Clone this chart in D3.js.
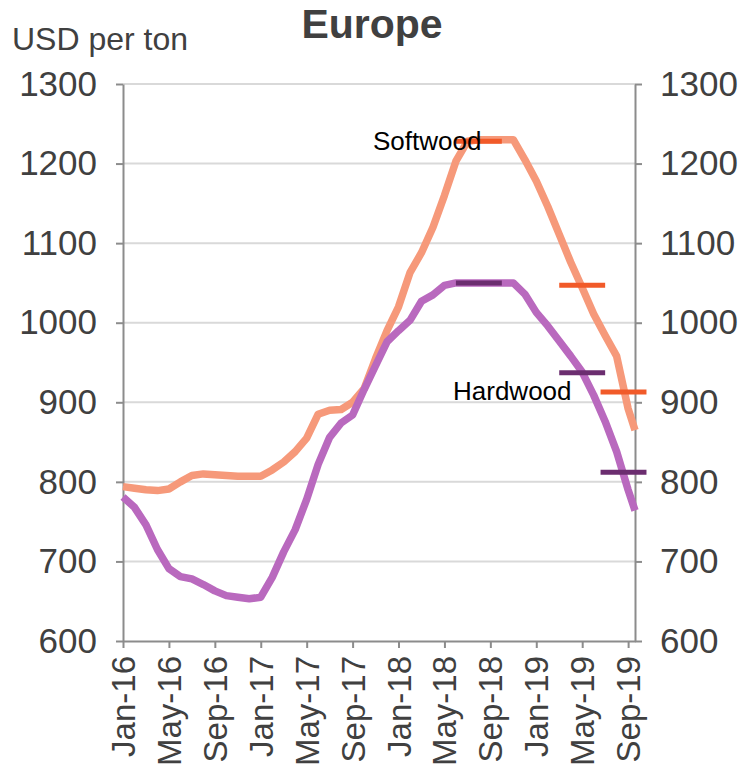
<!DOCTYPE html>
<html>
<head>
<meta charset="utf-8">
<script src="https://cdn.jsdelivr.net/npm/d3@7"></script>
<style>
  body { margin: 0; background: #fff; }
  text { font-family: "Liberation Sans", Arial, sans-serif; }
</style>
</head>
<body>
<div id="chart"></div>
<script>
// month index 0 = Jan-16; the last reading sits a little past Sep-19
const obsMonth = d3.range(45).concat([44.6]);

const softwood = [794, 792, 790, 789, 791, 800, 808, 810, 809, 808, 807, 807,
  807, 815, 825, 838, 855, 885, 890, 891, 900, 917, 955, 990,
  1020, 1063, 1088, 1120, 1160, 1203, 1228, 1230, 1230, 1230, 1230, 1205,
  1178, 1146, 1111, 1076, 1044, 1011, 984, 958, 892, 865];

const hardwood = [781, 768, 746, 715, 691, 681, 678, 671, 663, 657, 655, 653,
  655, 680, 712, 740, 778, 822, 856, 874, 884, 916, 946, 976,
  990, 1003, 1027, 1035, 1047, 1050, 1050, 1050, 1050, 1050, 1050, 1036,
  1013, 996, 977, 958, 938, 909, 876, 838, 790, 764];

// short horizontal marks (forecast levels)
const markStart = [29, 38, 41.6];
const markEnd = [33, 42, 45.6];
const softwoodMark = [1228, 1047, 913];
const hardwoodMark = [1050, 937, 812];

const tickMonths = [0, 4, 8, 12, 16, 20, 24, 28, 32, 36, 40, 44];
const tickLabels = ["Jan-16", "May-16", "Sep-16", "Jan-17", "May-17", "Sep-17",
  "Jan-18", "May-18", "Sep-18", "Jan-19", "May-19", "Sep-19"];
const yTicks = [600, 700, 800, 900, 1000, 1100, 1200, 1300];

var W = 739, H = 772;
var margin = {top: 84, right: 104, bottom: 131, left: 123};
var width = W - margin.left - margin.right,
    height = H - margin.top - margin.bottom;

var svg = d3.select("#chart").append("svg")
  .attr("width", W)
  .attr("height", H);

var g = svg.append("g")
  .attr("transform", "translate(" + margin.left + "," + margin.top + ")");

var x = d3.scaleLinear().domain([0, 44.6]).range([0, width]);
var y = d3.scaleLinear().domain([600, 1300]).range([height, 0]);

// gridlines
g.append("g")
  .selectAll("line")
  .data(yTicks.slice(1))
  .join("line")
  .attr("x1", 0).attr("x2", width)
  .attr("y1", d => y(d)).attr("y2", d => y(d))
  .attr("stroke", "#d9d9d9")
  .attr("stroke-width", 2);

function styleAxis(sel) {
  sel.select(".domain").attr("stroke", "#8c8c8c").attr("stroke-width", 2);
  sel.selectAll(".tick line").attr("stroke", "#8c8c8c").attr("stroke-width", 2);
  sel.selectAll(".tick text")
    .attr("fill", "#404040")
    .style("font-family", "'Liberation Sans', Arial, sans-serif");
}

// left axis
var yLeft = g.append("g")
  .call(d3.axisLeft(y).tickValues(yTicks).tickFormat(d3.format("d"))
    .tickSize(7).tickSizeOuter(0).tickPadding(19));
styleAxis(yLeft);
yLeft.selectAll(".tick text").style("font-size", "35px");

// right axis
var yRight = g.append("g")
  .attr("transform", "translate(" + width + ",0)")
  .call(d3.axisRight(y).tickValues(yTicks).tickFormat(d3.format("d"))
    .tickSize(7).tickSizeOuter(0).tickPadding(18));
styleAxis(yRight);
yRight.selectAll(".tick text").style("font-size", "35px");

// bottom axis
var xAxis = g.append("g")
  .attr("transform", "translate(0," + height + ")")
  .call(d3.axisBottom(x).tickValues(tickMonths)
    .tickFormat((d, i) => tickLabels[i]).tickSize(7).tickSizeOuter(0));
styleAxis(xAxis);
xAxis.selectAll(".tick text")
  .style("font-size", "33px")
  .attr("text-anchor", "end")
  .attr("transform", "rotate(-90)")
  .attr("x", -15)
  .attr("y", 0)
  .attr("dy", "0.35em");

// lines
var line = d3.line()
  .x((d, i) => x(obsMonth[i]))
  .y(d => y(d));

g.append("path")
  .datum(softwood)
  .attr("fill", "none")
  .attr("stroke", "#f6997a")
  .attr("stroke-width", 7.5)
  .attr("stroke-linejoin", "round")
  .attr("d", line);

g.append("path")
  .datum(hardwood)
  .attr("fill", "none")
  .attr("stroke", "#b969be")
  .attr("stroke-width", 7.5)
  .attr("stroke-linejoin", "round")
  .attr("d", line);

// forecast marks
g.append("g")
  .selectAll("line")
  .data(softwoodMark)
  .join("line")
  .attr("x1", (d, i) => x(markStart[i]))
  .attr("x2", (d, i) => x(markEnd[i]))
  .attr("y1", d => y(d)).attr("y2", d => y(d))
  .attr("stroke", "#f15a29")
  .attr("stroke-width", 5);

g.append("g")
  .selectAll("line")
  .data(hardwoodMark)
  .join("line")
  .attr("x1", (d, i) => x(markStart[i]))
  .attr("x2", (d, i) => x(markEnd[i]))
  .attr("y1", d => y(d)).attr("y2", d => y(d))
  .attr("stroke", "#6b2d6f")
  .attr("stroke-width", 5);

// series labels
svg.append("text")
  .attr("x", 373).attr("y", 150)
  .style("font-size", "26px")
  .attr("fill", "#000")
  .text("Softwood");

svg.append("text")
  .attr("x", 453).attr("y", 400)
  .style("font-size", "26px")
  .attr("fill", "#000")
  .text("Hardwood");

// title and unit
svg.append("text")
  .attr("x", 372).attr("y", 38)
  .attr("text-anchor", "middle")
  .style("font-size", "41px")
  .style("font-weight", "bold")
  .attr("fill", "#404040")
  .text("Europe");

svg.append("text")
  .attr("x", 12).attr("y", 50)
  .style("font-size", "32px")
  .attr("fill", "#404040")
  .text("USD per ton");
</script>
</body>
</html>
